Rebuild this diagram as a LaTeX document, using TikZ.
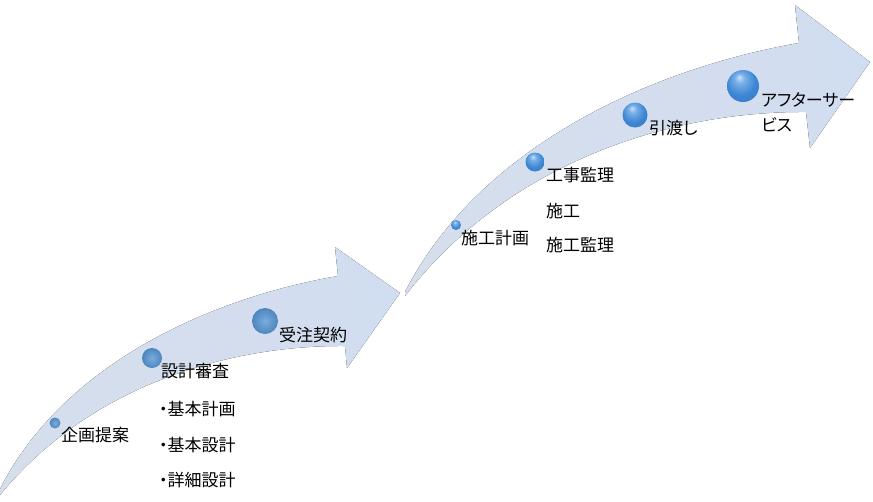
\documentclass[tikz,border=0pt]{standalone}
\usepackage{fontspec}
\newfontfamily\jp[RawFeature=+palt]{Noto Sans CJK JP}
\definecolor{band}{RGB}{209,221,240}
\definecolor{bandmid}{RGB}{201,213,233}
\definecolor{bandtail}{RGB}{214,222,236}
\definecolor{sph}{RGB}{62,135,212}
\definecolor{sphhi}{RGB}{200,225,248}
\definecolor{sphlo}{RGB}{120,175,230}
\definecolor{sphrim}{RGB}{48,112,190}
\definecolor{sphm}{RGB}{88,152,214}
\pgfdeclareradialshading{myglossy}{\pgfpoint{-6bp}{14bp}}{%
  color(0bp)=(sphhi); color(8bp)=(sphlo); color(22bp)=(sph);
  color(42bp)=(sphrim); color(50bp)=(sphlo)}
\begin{document}
\begin{tikzpicture}[x=1pt,y=-1pt]
\tikzset{
  arrowband/.style={left color=bandtail, middle color=bandmid, right color=band, draw=none},
  lbl/.style={font=\jp\fontsize{17}{25}\selectfont, inner sep=0pt, anchor=base west, text=black},
  matte/.style={circle, inner sep=0pt, minimum size=#1, inner color=sphm!80!white, outer color=sphm!88!black},
  gloss/.style={circle, inner sep=0pt, minimum size=#1, shading=myglossy}
}
\useasboundingbox (0,0) rectangle (873,501);
% arrows
\fill[arrowband] (0,489) .. controls (60,370) and (200,300) .. (338,276)
  -- (335,247) -- (400,293) -- (347,368) -- (345,346)
  .. controls (230,345) and (90,385) .. (0,495) -- cycle;
\fill[arrowband] (405,292) .. controls (475,154) and (639,71) .. (799,43)
  -- (795,5) -- (870,62) -- (810,148) -- (806,112)
  .. controls (674,111) and (510,160) .. (405,296) -- cycle;
% spheres
\node[matte=11pt] (s1) at (55,423) {};
\node[matte=20pt] (s2) at (152,358) {};
\node[matte=26pt] (s3) at (265,321) {};
\node[gloss=10pt] (s4) at (456,225) {};
\node[gloss=19pt] (s5) at (535,162) {};
\node[gloss=25pt] (s6) at (635,115) {};
\node[gloss=32pt] (s7) at (743,86) {};
% labels
\node[lbl] (t1) at (61,441) {企画提案};
\node[lbl] (t2) at (161,377) {設計審査};
\node[lbl] (t3) at (159,415) {・基本計画};
\node[lbl] (t4) at (159,451) {・基本設計};
\node[lbl] (t5) at (159,486) {・詳細設計};
\node[lbl] (t6) at (279,341) {受注契約};
\node[lbl] (t7) at (461,244) {施工計画};
\node[lbl] (t8) at (546,181) {工事監理};
\node[lbl] (t9) at (546,217) {施工};
\node[lbl] (t10) at (546,251) {施工監理};
\node[lbl] (t11) at (649,134) {引渡し};
\node[lbl, anchor=north west, align=left] (t12) at (761,92) {アフターサー\\ビス};
\end{tikzpicture}
\end{document}
